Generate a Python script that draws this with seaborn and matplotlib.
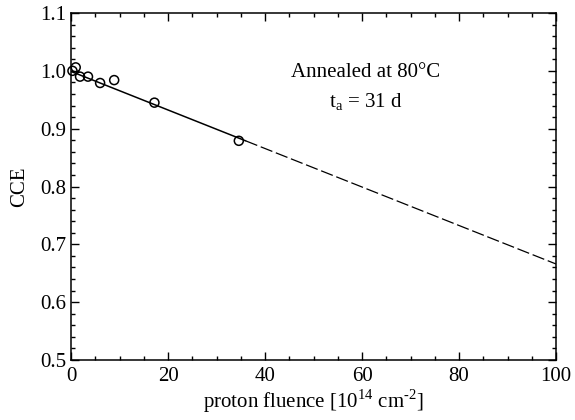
import matplotlib
matplotlib.use("Agg")
import matplotlib.pyplot as plt
import seaborn as sns
import pandas as pd
from matplotlib.ticker import MultipleLocator

# data
fluence = [0.3, 0.97, 1.86, 3.5, 6.0, 8.9, 17.2, 34.6]
cce = [1.000, 1.006, 0.990, 0.990, 0.979, 0.984, 0.945, 0.879]
fit_solid_x = [0, 36]
fit_solid_y = [0.999, 0.879]
fit_dash_x = [36, 100]
fit_dash_y = [0.879, 0.666]
xticks = [0, 20, 40, 60, 80, 100]
yticks = [0.5, 0.6, 0.7, 0.8, 0.9, 1.0, 1.1]

sns.set_theme(style="ticks")
plt.rcParams['font.family'] = ['Liberation Serif', 'DejaVu Serif']
plt.rcParams['mathtext.fontset'] = 'custom'
plt.rcParams['mathtext.rm'] = 'Liberation Serif'
plt.rcParams['text.color'] = 'black'
plt.rcParams['axes.labelcolor'] = 'black'

fig = plt.figure(figsize=(5.75, 4.2), dpi=100)
ax = fig.add_axes([0.1235, 0.1429, 0.967 - 0.1235, 0.969 - 0.1429])

pts = pd.DataFrame({"x": fluence, "y": cce})
solid = pd.DataFrame({"x": fit_solid_x, "y": fit_solid_y})
dash = pd.DataFrame({"x": fit_dash_x, "y": fit_dash_y})

sns.lineplot(data=solid, x="x", y="y", ax=ax, color="black", lw=1.1)
sns.lineplot(data=dash, x="x", y="y", ax=ax, color="black", lw=0.9)
ax.lines[-1].set_linestyle((0, (10, 3)))
sns.scatterplot(data=pts, x="x", y="y", ax=ax, s=42, facecolor="none",
                edgecolor="black", linewidth=1.1, zorder=5, clip_on=False)

ax.set_xlim(0, 100)
ax.set_ylim(0.5, 1.1)
ax.set_xticks(xticks)
ax.set_yticks(yticks)
ax.set_xticklabels([str(v) for v in xticks])
ax.set_yticklabels([f"{v:.1f}" for v in yticks])
ax.xaxis.set_minor_locator(MultipleLocator(5))
ax.yaxis.set_minor_locator(MultipleLocator(0.02))
ax.tick_params(which="both", direction="in", top=True, right=True,
               labelsize=15, colors="black", width=1.0)
ax.tick_params(axis="x", which="major", pad=5)
ax.tick_params(which="major", length=6)
ax.tick_params(which="minor", length=3)
for s in ax.spines.values():
    s.set_linewidth(1.1)
    s.set_color("black")

ax.set_xlabel(r"proton fluence [10$^{14}$ cm$^{\text{-}2}$]", fontsize=15, labelpad=1)
ax.set_ylabel("CCE", fontsize=15, labelpad=8)

ax.text(60.8, 0.997, "Annealed at 80°C", ha="center", va="center", fontsize=15)
ax.text(60.8, 0.945, r"t$_\mathrm{a}$ = 31 d", ha="center", va="center", fontsize=15)

fig.savefig("out.png", dpi=100)
